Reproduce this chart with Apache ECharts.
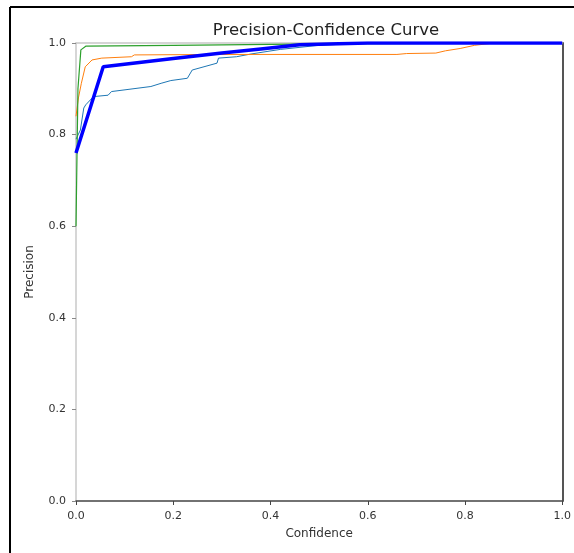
<!DOCTYPE html>
<html>
    <head>
        <meta charset='utf-8'>
        <title>Precision-Confidence Curve</title>
        <style>
            html, body { margin: 0; padding: 0; background: #fff; }
            #main_chart { width: 574px; height: 553px; }
        </style>
        <script type="text/javascript" src="https://cdn.jsdelivr.net/npm/echarts@6/dist/echarts.min.js"></script>
    </head>
    <body>
        <div id="main_chart"></div>
    </body>
    <script type="text/javascript">
        // ticks for both axes
        var tick_values = [0.0, 0.2, 0.4, 0.6, 0.8, 1.0];

        // class 0 (thin blue)
        var class0_conf = [0.0, 0.009, 0.016, 0.02, 0.036, 0.066, 0.073, 0.154, 0.175, 0.195, 0.229, 0.239, 0.29, 0.293, 0.33, 0.36, 0.42, 0.5, 0.6, 1.0];
        var class0_prec = [0.79, 0.81, 0.858, 0.865, 0.883, 0.886, 0.894, 0.905, 0.912, 0.918, 0.923, 0.941, 0.956, 0.967, 0.97, 0.976, 0.986, 0.995, 1.0, 1.0];

        // class 1 (orange)
        var class1_conf = [0.0, 0.005, 0.011, 0.019, 0.033, 0.053, 0.114, 0.12, 0.3, 0.66, 0.68, 0.74, 0.76, 0.79, 0.82, 0.86, 1.0];
        var class1_prec = [0.84, 0.88, 0.912, 0.948, 0.963, 0.967, 0.97, 0.974, 0.975, 0.975, 0.977, 0.978, 0.983, 0.988, 0.995, 1.0, 1.0];

        // class 2 (green)
        var class2_conf = [0.0, 0.004, 0.01, 0.02, 0.2, 0.5, 1.0];
        var class2_prec = [0.6, 0.9, 0.985, 0.993, 0.995, 0.998, 1.0];

        // all classes (thick blue)
        var all_conf = [0.0, 0.056, 0.2, 0.3, 0.38, 0.46, 0.6, 1.0];
        var all_prec = [0.76, 0.948, 0.966, 0.978, 0.987, 0.996, 1.0, 1.0];

        function zipPoints(xs, ys) {
            var out = [];
            for (var i = 0; i < xs.length; i++) {
                out.push([xs[i], ys[i]]);
            }
            return out;
        }

        function makeLine(xs, ys, color, width) {
            return {
                type: 'line',
                data: zipPoints(xs, ys),
                showSymbol: false,
                lineStyle: {color: color, width: width},
                itemStyle: {color: color},
                animation: false
            };
        }

        var label_font = 'DejaVu Sans';
        var tick_label = {
            fontFamily: label_font,
            fontSize: 11,
            color: '#333',
            customValues: tick_values,
            formatter: function (v) { return v.toFixed(1); }
        };

        var chart = echarts.init(document.getElementById('main_chart'));
        var option = {
            animation: false,
            backgroundColor: '#fff',
            title: {
                text: 'Precision-Confidence Curve',
                left: 321,
                top: 17,
                textAlign: 'center',
                textStyle: {fontFamily: label_font, fontSize: 16.5, fontWeight: 'normal', color: '#222'}
            },
            grid: {left: 76, top: 43, width: 490, height: 458},
            xAxis: [
                {
                    type: 'value', min: 0, max: 1, interval: 0.2,
                    name: 'Confidence', nameLocation: 'middle', nameGap: 27,
                    nameTextStyle: {fontFamily: label_font, fontSize: 12, color: '#333'},
                    axisLine: {onZero: false, lineStyle: {color: '#444', width: 1.5}},
                    axisTick: {show: true, length: 4, lineStyle: {color: '#444'}},
                    axisLabel: Object.assign({margin: 10}, tick_label),
                    splitLine: {show: false}
                },
                {
                    type: 'value', min: 0, max: 1, position: 'top',
                    axisLine: {onZero: false, lineStyle: {color: '#c8c8c8', width: 1.5}},
                    axisTick: {show: false}, axisLabel: {show: false}, splitLine: {show: false}
                }
            ],
            yAxis: [
                {
                    type: 'value', min: 0, max: 1, interval: 0.2,
                    name: 'Precision', nameLocation: 'middle', nameGap: 40,
                    nameTextStyle: {fontFamily: label_font, fontSize: 12, color: '#333'},
                    axisLine: {onZero: false, lineStyle: {color: '#c8c8c8', width: 1.5}},
                    axisTick: {show: true, length: 4, lineStyle: {color: '#888'}},
                    axisLabel: Object.assign({margin: 10}, tick_label),
                    splitLine: {show: false}
                },
                {
                    type: 'value', min: 0, max: 1, position: 'right',
                    axisLine: {onZero: false, lineStyle: {color: '#555', width: 2}},
                    axisTick: {show: false}, axisLabel: {show: false}, splitLine: {show: false}
                }
            ],
            series: [
                makeLine(class0_conf, class0_prec, '#1f77b4', 1),
                makeLine(class1_conf, class1_prec, '#ff7f0e', 1),
                makeLine(class2_conf, class2_prec, '#2ca02c', 1.2),
                makeLine(all_conf, all_prec, '#0000ff', 3.5)
            ],
            graphic: [
                {type: 'line', shape: {x1: 10, y1: 7, x2: 574, y2: 7}, style: {stroke: '#000', lineWidth: 2}},
                {type: 'line', shape: {x1: 10, y1: 7, x2: 10, y2: 553}, style: {stroke: '#000', lineWidth: 2}}
            ]
        };
        chart.setOption(option);
    </script>
</html>
